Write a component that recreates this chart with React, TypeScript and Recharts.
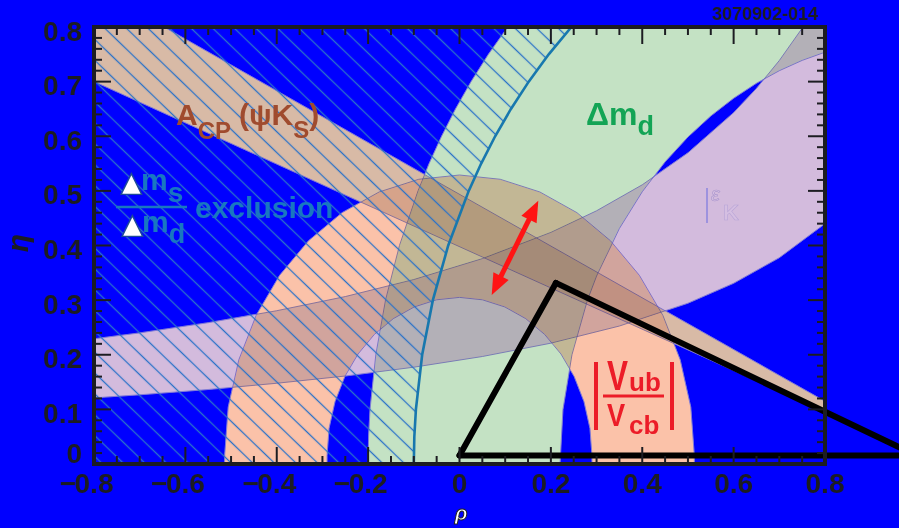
import React from "react";
import { ScatterChart, Scatter, XAxis, YAxis, ReferenceLine } from "recharts";

type Pt = [number, number];

// --- constraint regions in (rho, eta) ---

// dm_s / dm_d exclusion boundary (left of this arc is excluded)
const exclusionEdge: Pt[] = [
  [-0.0989, -0.05], [-0.1, 0], [-0.0989, 0.05], [-0.0954, 0.1], [-0.0817, 0.2],
  [-0.0583, 0.3], [-0.0247, 0.4], [0.0202, 0.5], [0.0474, 0.55], [0.078, 0.6],
  [0.1126, 0.65], [0.1515, 0.7], [0.1953, 0.75], [0.245, 0.8], [0.3018, 0.85],
];

// dm_d band, outer edge bottom -> top
const dmdOuter: Pt[] = [
  [-0.199, -0.05], [-0.2, 0], [-0.199, 0.05], [-0.1958, 0.1], [-0.1832, 0.2],
  [-0.1619, 0.3], [-0.1314, 0.4], [-0.0909, 0.5], [-0.0665, 0.55], [-0.0392, 0.6],
  [-0.0087, 0.65], [0.0253, 0.7], [0.0633, 0.75], [0.1056, 0.8], [0.1529, 0.85],
  [0.95, 0.85],
];
// dm_d band, inner edge top -> bottom
const dmdInner: Pt[] = [
  [0.95, 0.7784], [0.9, 0.7736], [0.85, 0.7654], [0.8, 0.7539], [0.75, 0.7389],
  [0.7, 0.72], [0.65, 0.6971], [0.6, 0.6696], [0.55, 0.6371], [0.5, 0.5987],
  [0.45, 0.5531], [0.4, 0.4984], [0.35, 0.4312], [0.3, 0.3441], [0.28, 0.3],
  [0.2461, 0.2], [0.2264, 0.1], [0.22, 0], [0.2216, -0.05],
];

// eps_K band
const ekUpper: Pt[] = [
  [-0.85, 0.2238], [-0.7, 0.24], [-0.55, 0.2587], [-0.4, 0.2806], [-0.25, 0.3065],
  [-0.1, 0.3377], [0.05, 0.376], [0.2, 0.424], [0.3, 0.4635], [0.4, 0.5111],
  [0.5, 0.5696], [0.6, 0.6432], [0.65, 0.6876], [0.7, 0.7386], [0.75, 0.7978],
  [0.8, 0.8672], [0.85, 0.95],
];
const ekLower: Pt[] = [
  [0.85, 0.4794], [0.8, 0.4399], [0.7, 0.3777], [0.6, 0.3309], [0.5, 0.2944],
  [0.35, 0.2526], [0.2, 0.2212], [0.05, 0.1968], [-0.1, 0.1772], [-0.25, 0.1611],
  [-0.4, 0.1478], [-0.55, 0.1364], [-0.7, 0.1267], [-0.85, 0.1183],
];

// |Vub/Vcb| ring
const vubOuter: Pt[] = [
  [-0.514, -0.02], [-0.514, 0.015], [-0.5062, 0.1042], [-0.483, 0.1908], [-0.4451, 0.272],
  [-0.3937, 0.3454], [-0.3304, 0.4087], [-0.257, 0.4601], [-0.1758, 0.498], [-0.0892, 0.5212],
  [0, 0.529], [0.0892, 0.5212], [0.1758, 0.498], [0.257, 0.4601], [0.3304, 0.4087],
  [0.3937, 0.3454], [0.4451, 0.272], [0.483, 0.1908], [0.5062, 0.1042], [0.514, 0.015],
  [0.514, -0.02],
];
const vubInner: Pt[] = [
  [0.29, -0.02], [0.29, 0.015], [0.2856, 0.0654], [0.2725, 0.1142], [0.2511, 0.16],
  [0.2221, 0.2014], [0.1864, 0.2372], [0.145, 0.2661], [0.0992, 0.2875], [0.0504, 0.3006],
  [0, 0.305], [-0.0504, 0.3006], [-0.0992, 0.2875], [-0.145, 0.2661], [-0.1864, 0.2372],
  [-0.2221, 0.2014], [-0.2511, 0.16], [-0.2725, 0.1142], [-0.2856, 0.0654], [-0.29, 0.015],
  [-0.29, -0.02],
];

// A_CP(psi K_S) wedge
const acpWedge: Pt[] = [[1.0, 0.02], [-0.9, 0.92], [-0.9, 0.738]];

// unitarity triangle and the red arrow
const triangle: Pt[] = [[0, 0.0156], [0.211, 0.3315], [1.0, 0.0156]];
const arrow: Pt[] = [[0.0705, 0.3095], [0.1725, 0.482]];

// axis ticks
const xMajorTicks = [-0.8, -0.6, -0.4, -0.2, 0, 0.2, 0.4, 0.6, 0.8];
const xMinorTicks = [
  -0.75, -0.7, -0.65, -0.55, -0.5, -0.45, -0.35, -0.3, -0.25, -0.15, -0.1, -0.05,
  0.05, 0.1, 0.15, 0.25, 0.3, 0.35, 0.45, 0.5, 0.55, 0.65, 0.7, 0.75,
];
const yMajorTicks = [0, 0.1, 0.2, 0.3, 0.4, 0.5, 0.6, 0.7, 0.8];
const yMinorTicks = [
  0.02, 0.04, 0.06, 0.08, 0.12, 0.14, 0.16, 0.18, 0.22, 0.24, 0.26, 0.28,
  0.32, 0.34, 0.36, 0.38, 0.42, 0.44, 0.46, 0.48, 0.52, 0.54, 0.56, 0.58,
  0.62, 0.64, 0.66, 0.68, 0.72, 0.74, 0.76, 0.78,
];

const W = 899;
const H = 528;
const PLOT = { left: 94, right: 825, top: 27, bottom: 464 };
const FONT = "'Liberation Sans', Arial, Helvetica, sans-serif";
const INK = "#1c1c22";

const rows = (pts: Pt[]) => pts.map(([x, y]) => ({ x, y }));

const pathOf = (pts: { x: number; y: number }[], close = true) =>
  pts.map((p, i) => `${i ? "L" : "M"}${p.x.toFixed(2)},${p.y.toFixed(2)}`).join(" ") + (close ? " Z" : "");

const bands = [
  { key: "ek", pts: [...ekUpper, ...ekLower], color: "#d3bbdd" },
  { key: "dmd", pts: [...dmdOuter, ...dmdInner], color: "#c4e2c4" },
  { key: "vub", pts: [...vubOuter, ...vubInner], color: "#fbc2a9" },
  { key: "acp", pts: acpWedge, color: "#d8baa6" },
];
// all bands go through one series so they can blend with each other
const bandRows = bands.flatMap((b) => rows(b.pts));

const hatchRegion: Pt[] = [...exclusionEdge, [-0.9, 0.85], [-0.9, -0.05]];

const noDot = () => <g />;

// overlaps: half multiply, half darken; single bands keep their own colour
const bandShapes = (props: any) => {
  const pts = props.points as { x: number; y: number }[];
  let start = 0;
  const paths = bands.map((b) => {
    const seg = pts.slice(start, start + b.pts.length);
    start += b.pts.length;
    return { key: b.key, d: pathOf(seg), color: b.color };
  });
  const layer = (mode: "multiply" | "darken") =>
    paths.map((p) => (
      <path
        key={`${mode}-${p.key}`}
        d={p.d}
        fill={p.color}
        stroke="#7f7ad6"
        strokeWidth={0.9}
        style={{ mixBlendMode: mode }}
      />
    ));
  return (
    <g>
      <g style={{ isolation: "isolate" }}>{layer("multiply")}</g>
      <g style={{ isolation: "isolate" }} opacity={0.5}>
        {layer("darken")}
      </g>
    </g>
  );
};

const hatch = (props: any) => (
  <g>
    <defs>
      <pattern id="excl-hatch" patternUnits="userSpaceOnUse" width={15} height={15} patternTransform="rotate(44)">
        <line x1={0} y1={7.5} x2={15} y2={7.5} stroke="#2a72c8" strokeWidth={1.3} />
      </pattern>
    </defs>
    <path d={pathOf(props.points)} fill="url(#excl-hatch)" stroke="none" />
  </g>
);

const edgeLine = (props: any) => (
  <path d={pathOf(props.points, false)} fill="none" stroke="#1878ae" strokeWidth={2.6} />
);

const redArrow = (props: any) => {
  const [a, b] = props.points as { x: number; y: number }[];
  const len = Math.hypot(b.x - a.x, b.y - a.y);
  const ux = (b.x - a.x) / len;
  const uy = (b.y - a.y) / len;
  const nx = -uy;
  const ny = ux;
  const hl = 21;
  const hw = 8.5;
  const head = (p: { x: number; y: number }, s: number) =>
    `M${p.x},${p.y} L${p.x - s * hl * ux + hw * nx},${p.y - s * hl * uy + hw * ny} L${p.x - s * hl * ux - hw * nx},${p.y - s * hl * uy - hw * ny} Z`;
  return (
    <g fill="#ff1414">
      <line
        x1={a.x + 16 * ux}
        y1={a.y + 16 * uy}
        x2={b.x - 16 * ux}
        y2={b.y - 16 * uy}
        stroke="#ff1414"
        strokeWidth={5}
      />
      <path d={head(b, 1)} />
      <path d={head(a, -1)} />
    </g>
  );
};

const fmtX = (v: number) => (v === 0 ? "0" : Math.abs(v).toFixed(1));

const XTick = (props: any) => {
  const { x, y, payload } = props;
  const v = payload.value as number;
  const major = xMajorTicks.includes(v);
  const len = major ? 17 : 8;
  return (
    <g>
      <line x1={x} x2={x} y1={y} y2={y - len} stroke={INK} strokeWidth={2} />
      <line x1={x} x2={x} y1={PLOT.top} y2={PLOT.top + len} stroke={INK} strokeWidth={2} />
      {major && (
        <text x={x} y={y + 29} textAnchor="middle" fontSize={28} fontWeight={700} fill={INK} fontFamily={FONT}>
          {fmtX(v)}
        </text>
      )}
      {major && v < 0 && (
        <text x={x - 18} y={y + 29} textAnchor="end" fontSize={28} fontWeight={700} fill={INK} fontFamily={FONT}>
          −
        </text>
      )}
    </g>
  );
};

const YTick = (props: any) => {
  const { x, y, payload } = props;
  const v = payload.value as number;
  const major = yMajorTicks.includes(v);
  const len = major ? 17 : 8;
  return (
    <g>
      <line x1={x} x2={x + len} y1={y} y2={y} stroke={INK} strokeWidth={2} />
      <line x1={PLOT.right} x2={PLOT.right - len} y1={y} y2={y} stroke={INK} strokeWidth={2} />
      {major && (
        <text
          x={x - 12}
          y={v === 0 ? y - 1 : y + 13.5}
          textAnchor="end"
          fontSize={28}
          fontWeight={700}
          fill={INK}
          fontFamily={FONT}
        >
          {v === 0 ? "0" : v.toFixed(1)}
        </text>
      )}
    </g>
  );
};

function Labels() {
  const teal = "#1878c0";
  const red = "#ec1c28";
  return (
    <svg
      width={W}
      height={H}
      style={{ position: "absolute", left: 0, top: 0, pointerEvents: "none" }}
      fontFamily={FONT}
    >
      {/* plot frame */}
      <rect
        x={PLOT.left}
        y={PLOT.top}
        width={PLOT.right - PLOT.left}
        height={PLOT.bottom - PLOT.top}
        fill="none"
        stroke="#1c1c22"
        strokeWidth={4}
      />
      <text x={818} y={20} textAnchor="end" fontSize={18} fontWeight={700} fill={INK}>
        3070902-014
      </text>
      <text
        x={28}
        y={243}
        transform="rotate(-90, 28, 243)"
        textAnchor="middle"
        fontSize={30}
        fontWeight={700}
        fontStyle="italic"
        fill={INK}
      >
        η
      </text>
      <text
        x={461}
        y={520}
        textAnchor="middle"
        fontSize={21}
        fontWeight={700}
        fontStyle="italic"
        fill="#ffffff"
        stroke="#222"
        strokeWidth={1}
      >
        ρ
      </text>

      {/* A_CP(psi K_S) */}
      <text x={176} y={125} fontSize={30} fontWeight={700} fill="#a04b2e">
        A
        <tspan fontSize={24} dy={14}>CP</tspan>
        <tspan fontSize={30} dy={-14} dx={8}>(ψK</tspan>
        <tspan fontSize={24} dy={13}>S</tspan>
        <tspan fontSize={30} dy={-13}>)</tspan>
      </text>

      {/* dm_s / dm_d exclusion */}
      <text x={121} y={191} fontSize={27} fontFamily="'DejaVu Sans', sans-serif" fill="#ffffff" stroke="#1c4a98" strokeWidth={1.4}>
        ▲
      </text>
      <text x={141} y={190} fontSize={30} fontWeight={700} fill={teal}>
        m<tspan fontSize={28} dy={12}>s</tspan>
      </text>
      <line x1={116} x2={187} y1={207} y2={207} stroke={teal} strokeWidth={2.5} />
      <text x={122} y={233} fontSize={27} fontFamily="'DejaVu Sans', sans-serif" fill="#ffffff" stroke="#1c4a98" strokeWidth={1.4}>
        ▲
      </text>
      <text x={142} y={232} fontSize={30} fontWeight={700} fill={teal}>
        m<tspan fontSize={27} dy={11}>d</tspan>
      </text>
      <text x={195} y={218} fontSize={30} fontWeight={700} fill={teal}>
        exclusion
      </text>

      {/* dm_d */}
      <text x={586} y={125} fontSize={32} fontWeight={700} fill="#13a455">
        Δm<tspan fontSize={27} dy={10}>d</tspan>
      </text>

      {/* |eps_K| */}
      <line x1={707} x2={707} y1={188} y2={223} stroke="#7b78e0" strokeWidth={1.2} />
      <text x={711} y={201} fontSize={20} fontStyle="italic" fill="#d5bfe2" stroke="#a995cc" strokeWidth={0.6}>
        ε
      </text>
      <text x={723} y={220} fontSize={22} fontWeight={700} fill="#d5bfe2" stroke="#b8a4d6" strokeWidth={0.6}>
        K
      </text>

      {/* |Vub / Vcb| */}
      <line x1={596} x2={596} y1={362} y2={430} stroke={red} strokeWidth={4} />
      <line x1={672} x2={672} y1={362} y2={430} stroke={red} strokeWidth={4} />
      <line x1={603} x2={664} y1={396} y2={396} stroke={red} strokeWidth={3} />
      <text transform="translate(607,390) scale(0.75,1)" fontSize={42} fontWeight={700} fill={red}>
        V
      </text>
      <text x={629} y={391} fontSize={26} fontWeight={700} fill={red}>
        ub
      </text>
      <text transform="translate(607,426) scale(0.85,1)" fontSize={32} fontWeight={700} fill={red}>
        V
      </text>
      <text x={629} y={434} fontSize={26} fontWeight={700} fill={red}>
        cb
      </text>
    </svg>
  );
}

export default function App() {
  return (
    <div
      style={{
        position: "absolute",
        left: 0,
        top: 0,
        width: W,
        height: H,
        background: "#0000ff",
        overflow: "hidden",
      }}
    >
      <ScatterChart
        width={W}
        height={H}
        margin={{ top: PLOT.top, right: W - PLOT.right, bottom: H - PLOT.bottom - 40, left: PLOT.left - 60 }}
      >
        <Scatter data={bandRows} line={bandShapes} shape={noDot} legendType="none" isAnimationActive={false} />
        <Scatter data={rows(hatchRegion)} line={hatch} shape={noDot} legendType="none" isAnimationActive={false} />
        <Scatter data={rows(exclusionEdge)} line={edgeLine} shape={noDot} legendType="none" isAnimationActive={false} />
        <Scatter data={rows(arrow)} line={redArrow} shape={noDot} legendType="none" isAnimationActive={false} />
        {[
          [0, 1],
          [1, 2],
          [0, 2],
        ].map(([i, j]) => (
          <ReferenceLine
            key={`tri-${i}-${j}`}
            segment={[
              { x: triangle[i][0], y: triangle[i][1] },
              { x: triangle[j][0], y: triangle[j][1] },
            ]}
            stroke="#000"
            strokeWidth={6}
            strokeLinecap="round"
            ifOverflow="visible"
            isFront
            zIndex={1100}
          />
        ))}
        <XAxis
          type="number"
          dataKey="x"
          domain={[-0.8, 0.8]}
          allowDataOverflow
          ticks={[...xMajorTicks, ...xMinorTicks]}
          interval={0}
          height={40}
          tickSize={0}
          tickMargin={0}
          tickLine={false}
          axisLine={false}
          tick={XTick}
          zIndex={1000}
        />
        <YAxis
          type="number"
          dataKey="y"
          domain={[0, 0.8]}
          allowDataOverflow
          ticks={[...yMajorTicks, ...yMinorTicks]}
          interval={0}
          width={60}
          tickSize={0}
          tickMargin={0}
          tickLine={false}
          axisLine={false}
          tick={YTick}
          zIndex={1000}
        />
      </ScatterChart>
      <Labels />
    </div>
  );
}
